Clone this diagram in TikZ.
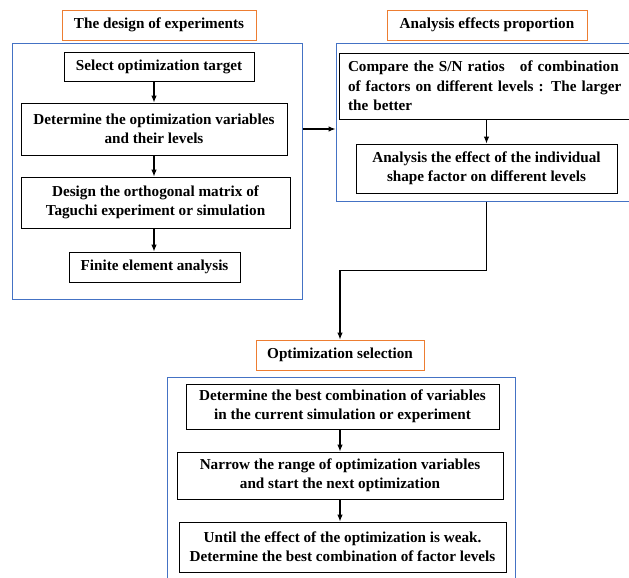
\documentclass[tikz,border=0pt]{standalone}
\usepackage{fontspec}
\setmainfont{Liberation Serif}
\usepackage{tikz}
\usetikzlibrary{arrows.meta}
\definecolor{orangeline}{HTML}{ED7D31}
\definecolor{blueline}{HTML}{4472C4}

\begin{document}
\begin{tikzpicture}[x=1pt,y=-1pt,>={Latex[length=7pt,width=5.5pt]},%
% common options for the step boxes:
block/.style = {draw, line width=0.8pt, align=center, inner sep=0,
            font=\bfseries\fontsize{15.2}{19}\selectfont},
% common options for the headings:
heading/.style = {draw=orangeline, line width=0.9pt, minimum height=30pt, inner sep=0,
            font=\bfseries\fontsize{15.2}{19}\selectfont},
% common options for the blue panels:
panel/.style = {draw=blueline, line width=1pt, inner sep=0},
% common options for the connectors:
link/.style = {->, line width=1.1pt}]
\useasboundingbox (0,0) rectangle (629,578);
% panels
\node[panel,minimum width=290pt,minimum height=255pt] (P1) at (157,171.5) {};
\node[panel,minimum width=304pt,minimum height=157pt] (P2) at (488,122.5) {};
\node[panel,minimum width=348pt,minimum height=213pt] (P3) at (341,483.5) {};
% headings
\node[heading,minimum width=194pt] (H1) at (159,25) {The design of experiments};
\node[heading,minimum width=200pt] (H2) at (487,25) {Analysis effects proportion};
\node[heading,minimum width=168pt] (H3) at (340,355) {Optimization selection};
% the design of experiments
\node[block,minimum width=190pt,minimum height=29pt] (A1) at (159,66.5) {Select optimization target};
\node[block,minimum width=266pt,minimum height=52pt] (A2) at (154,129) {Determine the optimization variables\\and their levels};
\node[block,minimum width=269pt,minimum height=51pt] (A3) at (155.5,202.5) {Design the orthogonal matrix of\\Taguchi experiment or simulation};
\node[block,minimum width=171pt,minimum height=30pt] (A4) at (154.5,267) {Finite element analysis};
% analysis effects proportion
\node[block,text width=297pt,align=left,inner xsep=9pt,minimum height=66pt,
      font=\bfseries\fontsize{15.2}{19.5}\selectfont] (B1) at (496.5,86)
      {Compare the S/N ratios\ \ \ of combination\\of factors on different levels : The larger\\the better};
\node[block,minimum width=261pt,minimum height=49pt] (B2) at (486.5,168.5) {Analysis the effect of the individual\\shape factor on different levels};
% optimization selection
\node[block,minimum width=313pt,minimum height=45pt] (C1) at (342.5,406.5) {Determine the best combination\ of variables\\in the current simulation or experiment};
\node[block,minimum width=326pt,minimum height=47pt] (C2) at (340,475.5) {Narrow the range of optimization variables\\and start the next optimization};
\node[block,minimum width=327pt,minimum height=50pt] (C3) at (342.5,547) {Until the effect of the optimization is weak.\\Determine the best combination of factor levels};
% arrows
\draw[link] (A2.north |- A1.south) to (A2.north);
\draw[link] (A2.south) to (A2.south |- A3.north);
\draw[link] (A2.south |- A3.south) to (A2.south |- A4.north);
\draw[link] (B2.north |- B1.south) to (B2.north);
\draw[link] (C1.south -| H3) to (C2.north -| H3);
\draw[link] (C2.south -| H3) to (C3.north -| H3);
\draw[link] (A2 -| P1.east) to (A2 -| P2.west);
\draw[link] (B2.south |- P2.south) -- ++(0,69) -| (H3.north);
\end{tikzpicture}
\end{document}
